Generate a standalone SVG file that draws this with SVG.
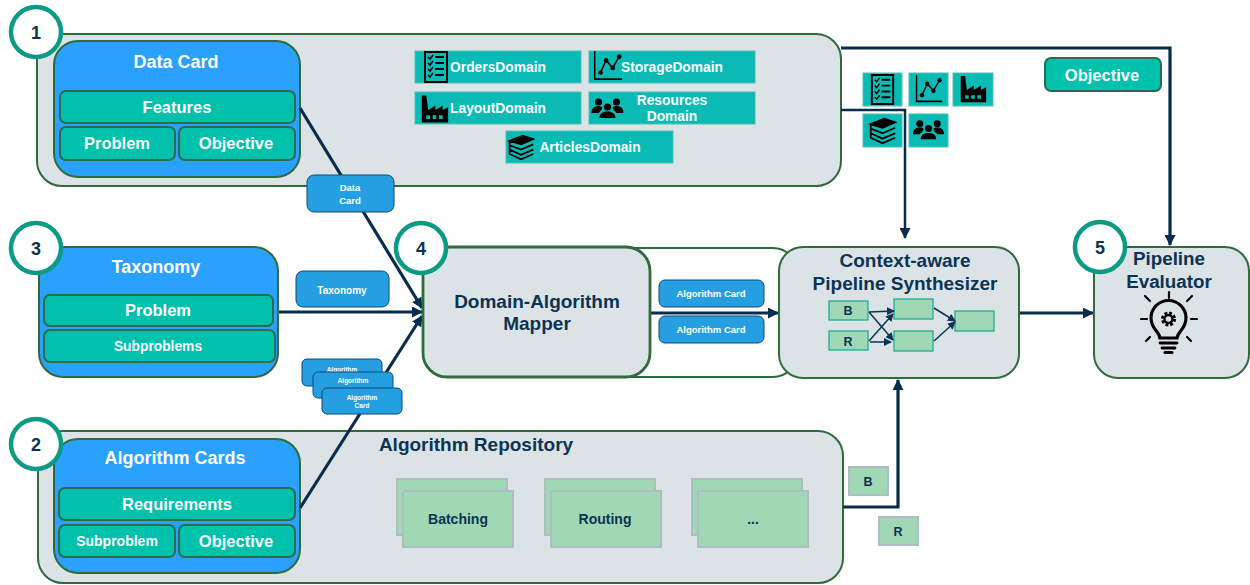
<svg xmlns="http://www.w3.org/2000/svg" width="1250" height="585" viewBox="0 0 1250 585">
<style>
text{font-family:"Liberation Sans",Arial,sans-serif;font-weight:700;text-anchor:middle}
.panel{fill:#dce3e6;stroke:#2f6b3c;stroke-width:2}
.blue{fill:#2aa1ff;stroke:#2f6b3c;stroke-width:2}
.teal{fill:#00c1ab;stroke:#2c6b50;stroke-width:2}
.dom{fill:#0abab5;stroke:#4fc0b4;stroke-width:1}
.card{fill:#259fe2;stroke:#0f4a70;stroke-width:1}
.green{fill:#a0d7b4;stroke:#aebcc6;stroke-width:2}
.mini{fill:#a0d7b4;stroke:#12a88f;stroke-width:1.2}
.ring{fill:#fff;stroke:#0b9b85;stroke-width:4.5}
.w{fill:#fff}.n{fill:#0b3355}
.line{fill:none;stroke:#082c4c;stroke-width:3.2}
.thin{fill:none;stroke:#0b3355;stroke-width:1.5}
.ic{fill:#000}
</style>
<defs>
<marker id="ah" markerUnits="userSpaceOnUse" markerWidth="11" markerHeight="11" refX="10" refY="5.500" orient="auto"><path d="M0 0L11 5.500L0 11Z" fill="#082c4c"/></marker>
<marker id="as" markerUnits="userSpaceOnUse" markerWidth="8" markerHeight="8" refX="7" refY="4" orient="auto"><path d="M0 0L8 4L0 8Z" fill="#0b3355"/></marker>
<symbol id="i-list" viewBox="0 0 32 32"><path class="ic" fill-rule="evenodd" d="M4 0H28V32H4ZM6 2V30H26V2Z"/><path d="M8 6l2 2 3-4M8 12l2 2 3-4M8 18l2 2 3-4M8 24l2 2 3-4" fill="none" stroke="#000" stroke-width="1.500"/><path class="ic" d="M15 5h9v2h-9zM15 11h9v2h-9zM15 17h9v2h-9zM15 23h9v2h-9z"/></symbol>
<symbol id="i-chart" viewBox="0 0 32 32"><path class="ic" d="M1 0h1.600v29H31v2H1z"/><path d="M8 23L14 10 21 18 28 6" fill="none" stroke="#000" stroke-width="1.600"/><circle class="ic" cx="8" cy="23" r="2.500"/><circle class="ic" cx="14" cy="10" r="2.500"/><circle class="ic" cx="21" cy="18" r="2.500"/><circle class="ic" cx="28" cy="6" r="2.500"/></symbol>
<symbol id="i-fac" viewBox="0 0 32 32"><path class="ic" fill-rule="evenodd" d="M2 1H7L9 17 17 12V17L25 12V17L31 14V31H2ZM7 23V27H11V23ZM14 23V27H18V23ZM21 23V27H25V23Z"/></symbol>
<symbol id="i-books" viewBox="0 0 32 32"><path d="M3 9L18 3 30 7 16 13ZM3 9V14L16 19 30 13M3 14V19L16 25 30 19M3 19V24L16 30 30 24" fill="none" stroke="#000" stroke-width="2"/><path class="ic" d="M3 9L18 3 30 7 16 13Z"/></symbol>
<symbol id="i-ppl" viewBox="0 0 32 32"><circle class="ic" cx="7" cy="10" r="3.600"/><circle class="ic" cx="25" cy="10" r="3.600"/><circle class="ic" cx="16" cy="15" r="3.600"/><path class="ic" d="M0 21c0-6 4-7 7-7 2 0 3 .5 4 1.500-1 3-3 4-4 5.500zM32 21c0-6-4-7-7-7-2 0-3 .5-4 1.500 1 3 3 4 4 5.500zM8 26c0-5 4-6.500 8-6.500s8 1.500 8 6.500z"/></symbol>
</defs>

<rect id="outer4" x="423" y="248" width="374" height="129" rx="24" fill="#fff" stroke="#2f6b3c" stroke-width="2"/>

<g id="n1">
<rect class="panel" x="37" y="34" width="804" height="152" rx="25"/>
<g id="datacard">
<rect class="blue" x="54" y="41" width="246" height="136" rx="24"/>
<text class="w" x="176" y="68" font-size="18">Data Card</text>
<rect class="teal" x="60" y="91" width="235" height="32" rx="6"/>
<text class="w" x="177" y="113" font-size="16.500">Features</text>
<rect class="teal" x="60" y="127" width="115" height="33" rx="6"/>
<text class="w" x="117" y="149" font-size="16.500">Problem</text>
<rect class="teal" x="179" y="127" width="116" height="33" rx="6"/>
<text class="w" x="236" y="149" font-size="16.500">Objective</text>
</g>
<g id="orders"><rect class="dom" x="415" y="51" width="166" height="32"/><use href="#i-list" x="420" y="51" width="32" height="32"/><text class="w" x="498" y="72" font-size="13.800">OrdersDomain</text></g>
<g id="storage"><rect class="dom" x="589" y="51" width="166" height="32"/><use href="#i-chart" x="593" y="51" width="30" height="30"/><text class="w" x="672" y="72" font-size="13.800">StorageDomain</text></g>
<g id="layout"><rect class="dom" x="415" y="92" width="166" height="32"/><use href="#i-fac" x="420" y="94" width="29" height="30"/><text class="w" x="498" y="113" font-size="13.800">LayoutDomain</text></g>
<g id="resources"><rect class="dom" x="589" y="92" width="166" height="32"/><use href="#i-ppl" x="591" y="92" width="33" height="32"/><text class="w" x="672" y="105" font-size="13.800">Resources</text><text class="w" x="672" y="121" font-size="13.800">Domain</text></g>
<g id="articles"><rect class="dom" x="506" y="131" width="167" height="32"/><use href="#i-books" x="507" y="133" width="28" height="28"/><text class="w" x="590" y="152" font-size="13.800">ArticlesDomain</text></g>
</g>

<g id="n2">
<rect class="panel" x="38" y="431" width="805" height="152" rx="25"/>
<text class="n" x="476" y="451" font-size="19">Algorithm Repository</text>
<g id="algocards">
<rect class="blue" x="54" y="439" width="246" height="134" rx="24"/>
<text class="w" x="175" y="464" font-size="18">Algorithm Cards</text>
<rect class="teal" x="59" y="488" width="236" height="32" rx="6"/>
<text class="w" x="177" y="510" font-size="16.500">Requirements</text>
<rect class="teal" x="59" y="525" width="116" height="32" rx="6"/>
<text class="w" x="117" y="546" font-size="14">Subproblem</text>
<rect class="teal" x="179" y="525" width="116" height="32" rx="6"/>
<text class="w" x="236" y="547" font-size="16.500">Objective</text>
</g>
<g id="batching"><rect class="green" x="397" y="479" width="110" height="56"/><rect class="green" x="403" y="491" width="110" height="56"/><text class="n" x="458" y="524" font-size="14">Batching</text></g>
<g id="routing"><rect class="green" x="545" y="479" width="110" height="56"/><rect class="green" x="551" y="491" width="110" height="56"/><text class="n" x="605" y="524" font-size="14">Routing</text></g>
<g id="more"><rect class="green" x="692" y="479" width="110" height="56"/><rect class="green" x="698" y="491" width="110" height="56"/><text class="n" x="753" y="524" font-size="14">...</text></g>
</g>

<g id="objective-top"><rect class="teal" x="1045" y="58" width="116" height="33" rx="6"/><text class="w" x="1102" y="81" font-size="16.500">Objective</text></g>
<g id="tiles">
<rect class="dom" x="863" y="73" width="39" height="33"/><use href="#i-list" x="867" y="74" width="31" height="31"/>
<rect class="dom" x="909" y="73" width="39" height="33"/><use href="#i-chart" x="915" y="75" width="28" height="28"/>
<rect class="dom" x="953" y="73" width="40" height="33"/><use href="#i-fac" x="959" y="75" width="28" height="28"/>
<rect class="dom" x="863" y="114" width="39" height="33"/><use href="#i-books" x="868" y="116" width="29" height="29"/>
<rect class="dom" x="909" y="114" width="39" height="33"/><use href="#i-ppl" x="913" y="114" width="31" height="31"/>
</g>

<g id="connectors">
<path class="line" d="M841 48H1170V245" marker-end="url(#ah)"/>
<path class="line" d="M841 110H905V238" style="stroke-width:2.500" marker-end="url(#ah)"/>
<path class="line" d="M300 108L422 308" marker-end="url(#ah)"/>
<path class="line" d="M278 312H422" marker-end="url(#ah)"/>
<path class="line" d="M300 508L422 316" marker-end="url(#ah)"/>
<path class="line" d="M650 313H778" marker-end="url(#ah)"/>
<path class="line" d="M1019 313H1093" marker-end="url(#ah)"/>
<path class="line" d="M843 507H898V380" marker-end="url(#ah)"/>
</g>

<g id="n3">
<rect class="blue" x="39" y="247" width="239" height="130" rx="24"/>
<text class="w" x="156" y="273" font-size="18">Taxonomy</text>
<rect class="teal" x="44" y="295" width="229" height="31" rx="6"/>
<text class="w" x="158" y="316" font-size="16.500">Problem</text>
<rect class="teal" x="44" y="330" width="231" height="32" rx="6"/>
<text class="w" x="158" y="351" font-size="13.800">Subproblems</text>
</g>

<g id="n4">
<rect class="panel" x="423" y="247" width="227" height="130" rx="24" style="stroke-width:2.800"/>
<text class="n" x="537" y="308" font-size="19">Domain-Algorithm</text>
<text class="n" x="537" y="330" font-size="19">Mapper</text>
</g>

<g id="n-synth">
<rect class="panel" x="779" y="247" width="240" height="131" rx="24"/>
<text class="n" x="905" y="267" font-size="19">Context-aware</text>
<text class="n" x="905" y="290" font-size="19">Pipeline Synthesizer</text>
<g id="mini">
<rect class="mini" x="829" y="301" width="39" height="19"/><text class="n" x="848" y="315" font-size="12.500">B</text>
<rect class="mini" x="829" y="331" width="39" height="19"/><text class="n" x="848" y="346" font-size="12.500">R</text>
<rect class="mini" x="894" y="299" width="39" height="20"/>
<rect class="mini" x="894" y="331" width="39" height="20"/>
<rect class="mini" x="955" y="311" width="39" height="20"/>
<path class="thin" d="M869 312L894 311" marker-end="url(#as)"/>
<path class="thin" d="M869 312L893 340" marker-end="url(#as)"/>
<path class="thin" d="M869 341L893 314" marker-end="url(#as)"/>
<path class="thin" d="M870 342H891" marker-end="url(#as)"/>
<path class="thin" d="M934 308L955 321" marker-end="url(#as)"/>
<path class="thin" d="M934 341L955 322" marker-end="url(#as)"/>
</g>
</g>

<g id="n5">
<rect class="panel" x="1094" y="247" width="155" height="131" rx="24"/>
<text class="n" x="1169" y="265" font-size="18.800">Pipeline</text>
<text class="n" x="1169" y="288" font-size="18.800">Evaluator</text>
<g id="bulb" fill="none" stroke="#000" stroke-linecap="round">
<path d="M1160 338C1159 331 1151 329 1151 318A17.500 17.500 0 0 1 1186 318C1186 329 1178 331 1177 338Z" stroke-width="3.200"/>
<circle cx="1168.500" cy="319" r="6" stroke-width="3" stroke-linecap="butt" stroke-dasharray="2.800 1.900"/>
<circle cx="1168.500" cy="319" r="4" stroke-width="2.400"/>
<path d="M1169 298v-6M1141 319h6M1191 319h6M1150 301l-5-5M1187 301l5-5M1150 337l-4 4M1187 337l4 4" stroke-width="2.200"/>
<path d="M1160 343h17M1162 348h13" stroke-width="2.800"/>
<path d="M1165 352.500h7" stroke-width="3"/>
</g>
</g>

<g id="lbl-datacard"><rect class="card" x="307" y="175" width="87" height="37" rx="7"/><text class="w" x="350" y="191" font-size="9.500">Data</text><text class="w" x="350" y="204" font-size="9.500">Card</text></g>
<g id="lbl-taxonomy"><rect class="card" x="296" y="271" width="93" height="36" rx="7"/><text class="w" x="342" y="294" font-size="10">Taxonomy</text></g>
<g id="lbl-algo1"><rect class="card" x="659" y="280" width="105" height="27" rx="6"/><text class="w" x="711" y="297" font-size="9.500">Algorithm Card</text></g>
<g id="lbl-algo2"><rect class="card" x="659" y="316" width="105" height="27" rx="6"/><text class="w" x="711" y="333" font-size="9.500">Algorithm Card</text></g>
<g id="lbl-stack">
<rect class="card" x="302" y="359" width="80" height="27" rx="5"/><text class="w" x="342" y="372" font-size="6.500">Algorithm</text>
<rect class="card" x="313" y="372" width="80" height="26" rx="5"/><text class="w" x="353" y="383" font-size="6.500">Algorithm</text>
<rect class="card" x="322" y="388" width="80" height="26" rx="5"/><text class="w" x="362" y="400" font-size="6.500">Algorithm</text><text class="w" x="362" y="408" font-size="6.500">Card</text>
</g>

<g id="tag-b"><rect class="green" x="849" y="467" width="39" height="28"/><text class="n" x="868" y="486" font-size="12.500">B</text></g>
<g id="tag-r"><rect class="green" x="879" y="517" width="39" height="28"/><text class="n" x="898" y="536" font-size="12.500">R</text></g>

<g id="badge1"><circle class="ring" cx="36" cy="32" r="25"/><text class="n" x="36" y="39" font-size="18">1</text></g>
<g id="badge3"><circle class="ring" cx="36" cy="248" r="25"/><text class="n" x="36" y="255" font-size="18">3</text></g>
<g id="badge2"><circle class="ring" cx="36" cy="444" r="25"/><text class="n" x="36" y="451" font-size="18">2</text></g>
<g id="badge4"><circle class="ring" cx="421" cy="248" r="25"/><text class="n" x="421" y="255" font-size="18">4</text></g>
<g id="badge5"><circle class="ring" cx="1100" cy="247" r="25"/><text class="n" x="1100" y="254" font-size="18">5</text></g>
</svg>
